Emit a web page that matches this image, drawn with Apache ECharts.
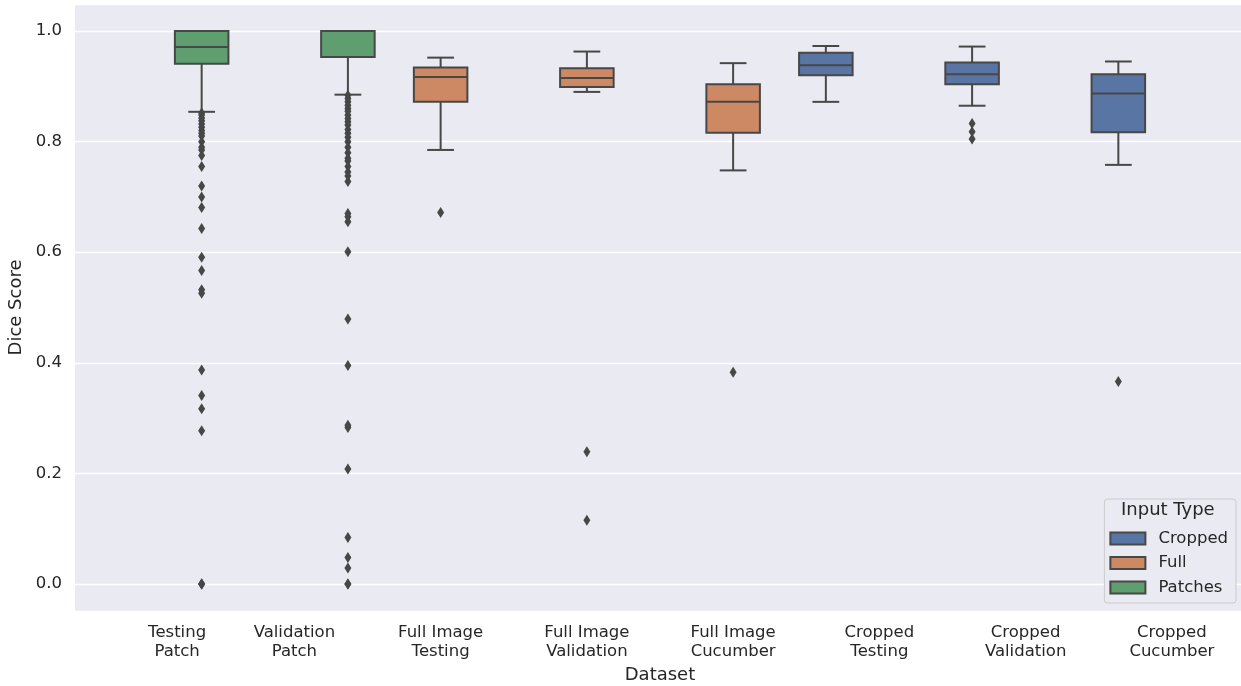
<!DOCTYPE html>
<html>
<head>
<meta charset="utf-8">
<script src="https://cdn.jsdelivr.net/npm/echarts@6/dist/echarts.min.js"></script>
<style>
  html, body { margin: 0; padding: 0; background: #fff; }
  .chart { width: 1241px; height: 686px; }
</style>
</head>
<body>
<div class="chart"></div>
<script>
// categories and which input type each one belongs to
var categories = ['Testing\nPatch', 'Validation\nPatch', 'Full Image\nTesting', 'Full Image\nValidation',
    'Full Image\nCucumber', 'Cropped\nTesting', 'Cropped\nValidation', 'Cropped\nCucumber'];
var hueOf = ['Patches', 'Patches', 'Full', 'Full', 'Full', 'Cropped', 'Cropped', 'Cropped'];
var hueNames = ['Cropped', 'Full', 'Patches'];

// box stats per category
var whiskerLow = [0.854, 0.885, 0.785, 0.890, 0.748, 0.872, 0.865, 0.758];
var q1 = [0.941, 0.953, 0.872, 0.899, 0.816, 0.920, 0.904, 0.817];
var median = [0.971, 1.000, 0.917, 0.915, 0.872, 0.938, 0.922, 0.887];
var q3 = [1.000, 1.000, 0.934, 0.933, 0.904, 0.961, 0.943, 0.922];
var whiskerHigh = [1.000, 1.000, 0.952, 0.963, 0.942, 0.973, 0.972, 0.945];

// outliers per category
var outTestingPatch = [0.852, 0.848, 0.843, 0.838, 0.832, 0.826, 0.820, 0.815, 0.810, 0.800, 0.790,
    0.785, 0.775, 0.755, 0.720, 0.700, 0.681, 0.643, 0.591, 0.567, 0.532, 0.526, 0.387, 0.341, 0.317,
    0.277, 0.0, 0.0, 0.0];
var outValidationPatch = [0.884, 0.878, 0.872, 0.866, 0.860, 0.855, 0.848, 0.842, 0.836, 0.830, 0.822,
    0.815, 0.808, 0.800, 0.790, 0.780, 0.770, 0.765, 0.755, 0.745, 0.738, 0.728, 0.670, 0.664, 0.655,
    0.601, 0.479, 0.395, 0.287, 0.283, 0.208, 0.084, 0.048, 0.029, 0.0, 0.0];
var outFullTesting = [0.672];
var outFullValidation = [0.239, 0.115];
var outFullCucumber = [0.383];
var outCroppedTesting = [];
var outCroppedValidation = [0.833, 0.818, 0.805];
var outCroppedCucumber = [0.366];
var outliers = [outTestingPatch, outValidationPatch, outFullTesting, outFullValidation,
    outFullCucumber, outCroppedTesting, outCroppedValidation, outCroppedCucumber];

var colors = { Cropped: '#5975a4', Full: '#cc8963', Patches: '#5f9e6e' };
var lineColor = '#474747';
var textColor = '#262626';
var hueStep = 0.366;   // offset of each hue inside a category, in band units
var boxFrac = 0.366;   // box width, in band units
var hueShift = { Cropped: -1, Full: 0, Patches: 1 };

var myChart = echarts.init(document.querySelector('.chart'));

function boxRender(hue) {
    return function (params, api) {
        var cat = api.value(0);
        var band = api.size([1, 0])[0];
        var cx = api.coord([cat, 0])[0] + hueShift[hue] * hueStep * band;
        var half = boxFrac * band / 2;
        var yLo = api.coord([cat, api.value(1)])[1];
        var yQ1 = api.coord([cat, api.value(2)])[1];
        var yMed = api.coord([cat, api.value(3)])[1];
        var yQ3 = api.coord([cat, api.value(4)])[1];
        var yHi = api.coord([cat, api.value(5)])[1];
        var ls = { stroke: lineColor, lineWidth: 2 };
        return {
            type: 'group',
            children: [
                { type: 'line', shape: { x1: cx, y1: yLo, x2: cx, y2: yQ1 }, style: ls },
                { type: 'line', shape: { x1: cx, y1: yQ3, x2: cx, y2: yHi }, style: ls },
                { type: 'line', shape: { x1: cx - half / 2, y1: yLo, x2: cx + half / 2, y2: yLo }, style: ls },
                { type: 'line', shape: { x1: cx - half / 2, y1: yHi, x2: cx + half / 2, y2: yHi }, style: ls },
                { type: 'rect', shape: { x: cx - half, y: yQ3, width: half * 2, height: yQ1 - yQ3 },
                  style: { fill: colors[hue], stroke: lineColor, lineWidth: 2 } },
                { type: 'line', shape: { x1: cx - half, y1: yMed, x2: cx + half, y2: yMed }, style: ls }
            ]
        };
    };
}

function outlierRender(params, api) {
    var cat = api.value(0);
    var band = api.size([1, 0])[0];
    var p = api.coord([cat, api.value(1)]);
    var cx = p[0] + hueShift[hueOf[cat]] * hueStep * band;
    var y = p[1];
    return {
        type: 'polygon',
        shape: { points: [[cx, y - 5.5], [cx + 3.5, y], [cx, y + 5.5], [cx - 3.5, y]] },
        style: { fill: lineColor }
    };
}

var series = [];
hueNames.forEach(function (hue) {
    var data = [];
    for (var i = 0; i < categories.length; i++) {
        if (hueOf[i] === hue) data.push([i, whiskerLow[i], q1[i], median[i], q3[i], whiskerHigh[i]]);
    }
    series.push({
        name: hue,
        type: 'custom',
        renderItem: boxRender(hue),
        itemStyle: { color: colors[hue], borderColor: lineColor, borderWidth: 1 },
        encode: { x: 0, y: [1, 2, 3, 4, 5] },
        data: data,
        z: 3
    });
});
var outData = [];
outliers.forEach(function (list, i) {
    list.forEach(function (v) { outData.push([i, v]); });
});
series.push({
    name: 'outliers',
    type: 'custom',
    renderItem: outlierRender,
    encode: { x: 0, y: 1 },
    data: outData,
    z: 2
});

var option = {
    animation: false,
    textStyle: { fontFamily: 'DejaVu Sans' },
    grid: {
        left: 75,
        top: 4,
        width: 1170,
        bottom: 75,
        outerBoundsMode: 'none',
        containLabel: false,
        show: true,
        backgroundColor: '#eaeaf2',
        borderWidth: 0
    },
    legend: {
        data: hueNames,
        orient: 'vertical',
        right: 5,
        bottom: 83,
        icon: 'rect',
        itemWidth: 35,
        itemHeight: 12,
        itemGap: 5.5,
        padding: [30, 8, 6, 5],
        backgroundColor: '#eaeaf2',
        borderColor: '#cccccc',
        borderWidth: 1,
        borderRadius: 3,
        textStyle: { color: textColor, fontSize: 16.5, lineHeight: 19, padding: [0, 0, 0, 8], fontFamily: 'DejaVu Sans' }
    },
    graphic: [{
        type: 'text',
        left: 1121,
        top: 501,
        z: 100,
        style: { text: 'Input Type', fill: textColor, fontSize: 18, fontFamily: 'DejaVu Sans' }
    }],
    xAxis: {
        type: 'category',
        data: categories,
        axisLine: { show: false },
        axisTick: { show: false },
        splitLine: { show: false },
        axisLabel: {
            interval: 0,
            margin: 12,
            color: textColor,
            fontSize: 16.5,
            lineHeight: 19,
            formatter: function (v, i) {
                if (i === 0) return v.split('\n').map(function (s) { return '{shift|' + s + '}'; }).join('\n');
                return v;
            },
            rich: {
                shift: { padding: [0, 0, 0, 58], fontSize: 16.5, lineHeight: 19, color: textColor }
            }
        },
        name: 'Dataset',
        nameLocation: 'middle',
        nameGap: 53,
        nameTextStyle: { color: textColor, fontSize: 18 }
    },
    yAxis: {
        type: 'value',
        min: -0.049,
        max: 1.049,
        splitNumber: 5,
        axisLine: { show: false },
        axisTick: { show: false },
        splitLine: { lineStyle: { color: '#ffffff', width: 1.3 } },
        axisLabel: {
            showMinLabel: false,
            showMaxLabel: false,
            margin: 13,
            color: textColor,
            fontSize: 16.5,
            formatter: function (v) { return v.toFixed(1); }
        },
        name: 'Dice Score',
        nameLocation: 'middle',
        nameGap: 47,
        nameTextStyle: { color: textColor, fontSize: 18 }
    },
    series: series
};

myChart.setOption(option);
</script>
</body>
</html>
